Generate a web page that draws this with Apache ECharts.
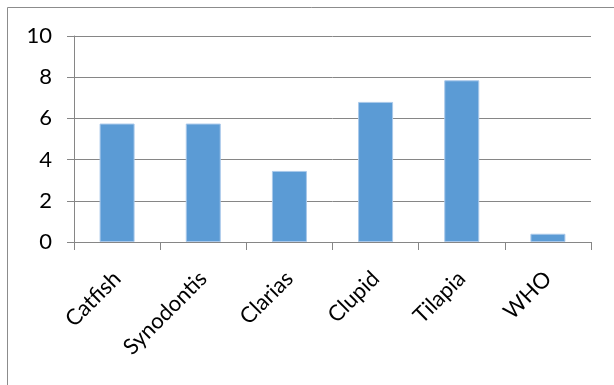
<!DOCTYPE html>
<html><head><meta charset="utf-8">
<script src="https://cdn.jsdelivr.net/npm/echarts@6/dist/echarts.min.js"></script>
<style>html,body{margin:0;padding:0;background:#fff}#c{width:614px;height:385px}</style>
</head><body><div id="c"></div>
<script>
const categories = ['Catfish', 'Synodontis', 'Clarias', 'Clupid', 'Tilapia', 'WHO'];
const values = [5.75, 5.75, 3.45, 6.8, 7.85, 0.4];
const yTicks = [0, 2, 4, 6, 8, 10];

const chart = echarts.init(document.getElementById('c'), null, {renderer: 'canvas'});
const FONT = 'Lato';
chart.setOption({
  animation: false,
  backgroundColor: '#fff',
  graphic: [{
    type: 'rect', shape: {x: 7.5, y: 7.5, width: 800, height: 600},
    style: {fill: 'none', stroke: '#8c8c8c', lineWidth: 1}, silent: true
  }],
  grid: {left: 74, right: 23, top: 36, bottom: 143, containLabel: false},
  xAxis: {
    type: 'category', data: categories,
    axisLine: {lineStyle: {color: '#868686', width: 1}},
    axisTick: {show: true, length: 8, alignWithLabel: false, lineStyle: {color: '#868686'}},
    axisLabel: {rotate: 45, margin: 33, color: '#000', fontFamily: FONT, fontSize: 22, interval: 0}
  },
  yAxis: {
    type: 'value', min: 0, max: 10, interval: 2,
    axisLine: {show: true, lineStyle: {color: '#868686', width: 1}},
    axisTick: {show: true, length: 7, lineStyle: {color: '#868686'}},
    splitLine: {show: true, lineStyle: {color: '#868686', width: 1}},
    axisLabel: {margin: 22, color: '#000', fontFamily: FONT, fontSize: 22,
      formatter: v => yTicks.includes(v) ? String(v) : ''}
  },
  series: [{
    type: 'bar', data: values, barWidth: 35,
    itemStyle: {color: '#5b9bd5', borderColor: '#a9c8ea', borderWidth: 1}
  }]
});
</script></body></html>
